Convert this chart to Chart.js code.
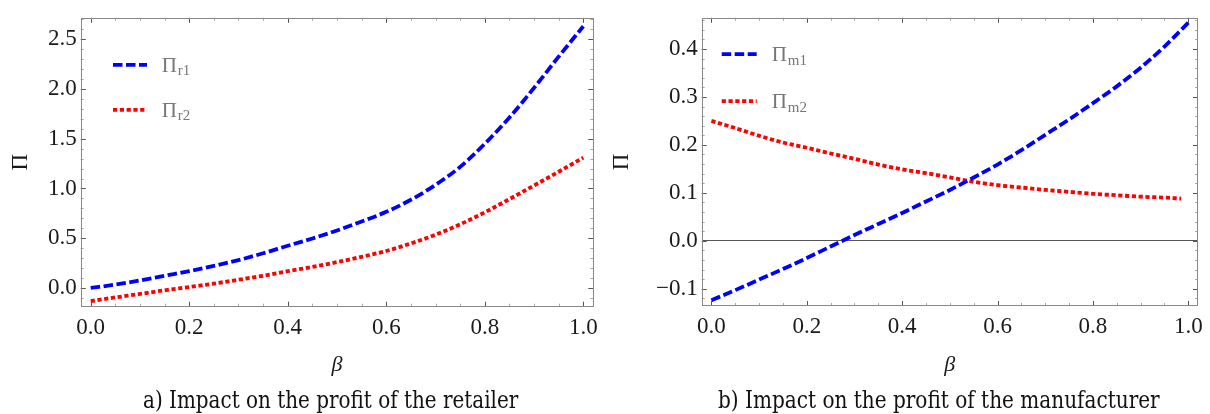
<!DOCTYPE html>
<html>
<head>
<meta charset="utf-8">
<title>Impact on the profit</title>
<script src="https://cdn.jsdelivr.net/npm/chart.js@4.4.1/dist/chart.umd.min.js"></script>
<style>
  html, body { margin: 0; padding: 0; background: #fff; }
  body { width: 1210px; height: 414px; position: relative; overflow: hidden; }
  .panel { position: absolute; top: 0; width: 605px; height: 414px; }
  .caption {
    position: absolute; top: 387px; white-space: nowrap;
    font-family: "DejaVu Serif"; font-stretch: condensed; font-size: 25px; line-height: 25px;
    color: #111; transform-origin: left top;
  }
</style>
</head>
<body>
<div class="panel" style="left:0"><canvas id="retailerChart" width="605" height="414"></canvas></div>
<div class="panel" style="left:605px"><canvas id="manufacturerChart" width="605" height="414"></canvas></div>
<div class="caption" id="captionA" data-left="142.7" data-width="375.3">a) Impact on the profit of the retailer</div>
<div class="caption" id="captionB" data-left="718.3" data-width="441.7">b) Impact on the profit of the manufacturer</div>

<script>
// β steps
const beta = [0, 0.05, 0.1, 0.15, 0.2, 0.25, 0.3, 0.35, 0.4, 0.45, 0.5,
              0.55, 0.6, 0.65, 0.7, 0.75, 0.8, 0.85, 0.9, 0.95, 1.0];
// the red curve of panel b stops just short of 1
const betaM2 = [0, 0.05, 0.1, 0.15, 0.2, 0.25, 0.3, 0.35, 0.4, 0.45, 0.5,
                0.55, 0.6, 0.65, 0.7, 0.75, 0.8, 0.85, 0.9, 0.95, 0.985];

// a) retailer
const profitR1 = [0.000, 0.034, 0.076, 0.123, 0.169, 0.222, 0.280, 0.349, 0.424, 0.497, 0.578,
                  0.668, 0.765, 0.887, 1.036, 1.217, 1.449, 1.713, 2.011, 2.325, 2.630];
const profitR2 = [-0.132, -0.095, -0.060, -0.023, 0.010, 0.044, 0.083, 0.123, 0.169, 0.212, 0.260,
                  0.313, 0.372, 0.448, 0.535, 0.640, 0.760, 0.893, 1.030, 1.168, 1.310];

// b) manufacturer
const profitM1 = [-0.124, -0.103, -0.081, -0.059, -0.036, -0.012, 0.012, 0.035, 0.058, 0.082, 0.106,
                  0.132, 0.159, 0.189, 0.221, 0.253, 0.287, 0.322, 0.361, 0.405, 0.455];
const profitM2 = [0.250, 0.235, 0.219, 0.205, 0.194, 0.182, 0.171, 0.159, 0.149, 0.141, 0.132,
                  0.123, 0.116, 0.111, 0.106, 0.102, 0.098, 0.095, 0.092, 0.090, 0.088];

const seriesLabels = { r1: 'Πr1', r2: 'Πr2', m1: 'Πm1', m2: 'Πm2' };

const BLUE = 'rgb(0, 0, 255)';
const RED = 'rgb(255, 0, 0)';

Chart.defaults.font.family = '"Liberation Serif", "Times New Roman", serif';
Chart.defaults.color = '#1a1a1a';

function toPoints(xs, ys) {
    return xs.map((x, i) => ({ x: x, y: ys[i] }));
}

function formatTick(v) {
    if (v < -1e-9) return '\u2212' + Math.abs(v).toFixed(1);
    return Math.abs(v).toFixed(1);
}

// Mathematica style frame: inner ticks on all four sides
const frameTicks = {
    id: 'frameTicks',
    afterDraw(chart, args, opts) {
        const { ctx, chartArea: a, scales } = chart;
        ctx.save();
        ctx.lineWidth = 1;

        const drawTicks = (scale, step, isX) => {
            const from = Math.ceil(scale.min / step - 1e-6);
            const to = Math.floor(scale.max / step + 1e-6);
            const majors = scale.ticks.map(t => t.value);
            for (let k = from; k <= to; k++) {
                const v = k * step;
                const major = majors.some(m => Math.abs(m - v) < step / 10);
                const len = major ? 5 : 3;
                ctx.strokeStyle = major ? '#555' : '#aaa';
                const p = Math.round(scale.getPixelForValue(v)) + 0.5;
                ctx.beginPath();
                if (isX) {
                    ctx.moveTo(p, a.bottom); ctx.lineTo(p, a.bottom - len);
                    ctx.moveTo(p, a.top); ctx.lineTo(p, a.top + len);
                } else {
                    ctx.moveTo(a.left, p); ctx.lineTo(a.left + len, p);
                    ctx.moveTo(a.right, p); ctx.lineTo(a.right - len, p);
                }
                ctx.stroke();
            }
        };
        drawTicks(scales.x, opts.xMinor, true);
        drawTicks(scales.y, opts.yMinor, false);

        ctx.strokeStyle = '#888';
        ctx.strokeRect(Math.round(a.left) + 0.5, Math.round(a.top) + 0.5,
                       Math.round(a.width) - 1, Math.round(a.height) - 1);
        ctx.restore();
    }
};

// legend with subscripts, drawn inside the plot
const curveLegend = {
    id: 'curveLegend',
    afterDatasetsDraw(chart, args, opts) {
        const { ctx, chartArea: a } = chart;
        chart.data.datasets.forEach((ds, i) => {
            const x = a.left + opts.left;
            const y = a.top + opts.top + i * opts.rowGap;
            ctx.save();
            ctx.strokeStyle = ds.borderColor;
            ctx.lineWidth = ds.borderWidth;
            ctx.lineCap = 'butt';
            ctx.setLineDash(ds.borderDash);
            ctx.beginPath();
            ctx.moveTo(x, y);
            ctx.lineTo(x + opts.lineLength, y);
            ctx.stroke();

            ctx.setLineDash([]);
            ctx.fillStyle = '#777';
            ctx.textBaseline = 'alphabetic';
            ctx.textAlign = 'left';
            const main = ds.label.charAt(0);
            const sub = ds.label.slice(1);
            const tx = x + opts.textOffset;
            ctx.font = '21px "Liberation Serif"';
            ctx.fillText(main, tx, y + 7);
            const w = ctx.measureText(main).width;
            ctx.font = '15px "Liberation Serif"';
            ctx.fillText(sub, tx + w + 1, y + 10.5);
            ctx.restore();
        });
    }
};

function lineDataset(label, points, color, dash) {
    return {
        label: label,
        data: points,
        borderColor: color,
        backgroundColor: color,
        borderWidth: 3.8,
        borderDash: dash,
        borderCapStyle: 'butt',
        pointRadius: 0,
        cubicInterpolationMode: 'monotone',
        fill: false
    };
}

function makePanel(id, cfg) {
    const keepInside = scale => {
        scale.ticks = scale.ticks.filter(t => t.value >= scale.min - 1e-9 && t.value <= scale.max + 1e-9);
    };
    return new Chart(document.getElementById(id), {
        type: 'line',
        data: { datasets: cfg.datasets },
        plugins: [frameTicks, curveLegend],
        options: {
            responsive: false,
            animation: false,
            devicePixelRatio: 1,
            layout: { padding: cfg.padding },
            plugins: {
                legend: { display: false },
                tooltip: { enabled: false },
                frameTicks: { xMinor: 0.05, yMinor: cfg.yMinor },
                curveLegend: cfg.legend
            },
            scales: {
                x: {
                    type: 'linear',
                    min: -0.0203,
                    max: 1.0203,
                    border: { display: false },
                    grid: { display: false, drawTicks: false },
                    ticks: { stepSize: 0.2, padding: 7, includeBounds: false, callback: formatTick,
                             font: { size: 23 }, color: '#1a1a1a', maxRotation: 0 },
                    afterBuildTicks: keepInside,
                    afterFit: scale => { scale.height = 75; },
                    title: { display: true, text: 'β', color: '#1a1a1a',
                             font: { size: 22, style: 'italic' }, padding: { top: 0, bottom: 3 } }
                },
                y: {
                    type: 'linear',
                    min: cfg.yMin,
                    max: cfg.yMax,
                    border: { display: false },
                    grid: cfg.zeroLine ? {
                        drawTicks: false,
                        lineWidth: 1,
                        color: c => (c.tick && Math.abs(c.tick.value) < 1e-9) ? '#555' : 'rgba(0,0,0,0)'
                    } : { display: false, drawTicks: false },
                    ticks: { stepSize: cfg.yStep, padding: 4, includeBounds: false, callback: formatTick,
                             font: { size: 23 }, color: '#1a1a1a' },
                    afterBuildTicks: keepInside,
                    afterFit: scale => { scale.width = cfg.yWidth; },
                    title: { display: true, text: 'Π', color: '#1a1a1a',
                             font: { size: 23 }, padding: { top: cfg.yTitlePad, bottom: 0 } }
                }
            }
        }
    });
}

makePanel('retailerChart', {
    datasets: [
        lineDataset(seriesLabels.r1, toPoints(beta, profitR1), BLUE, [9.5, 3.5]),
        lineDataset(seriesLabels.r2, toPoints(beta, profitR2), RED, [4.2, 2.6])
    ],
    padding: { top: 14, right: 11.7, bottom: 32.3, left: 0 },
    yMin: -0.188, yMax: 2.715, yStep: 0.5, yMinor: 0.1,
    yWidth: 80.7, yTitlePad: 7.2, zeroLine: false,
    legend: { left: 32.3, top: 47, rowGap: 45, lineLength: 34, textOffset: 48.7 }
});

makePanel('manufacturerChart', {
    datasets: [
        lineDataset(seriesLabels.m1, toPoints(beta, profitM1), BLUE, [9.5, 3.5]),
        lineDataset(seriesLabels.m2, toPoints(betaM2, profitM2), RED, [4.2, 2.6])
    ],
    padding: { top: 12.7, right: 12, bottom: 33, left: 0 },
    yMin: -0.136, yMax: 0.465, yStep: 0.1, yMinor: 0.02,
    yWidth: 96.7, yTitlePad: 2.7, zeroLine: true,
    legend: { left: 20, top: 36.3, rowGap: 47, lineLength: 35, textOffset: 50 }
});

// squeeze captions to the width they take in the figure
document.querySelectorAll('.caption').forEach(el => {
    const target = parseFloat(el.dataset.width);
    const w = el.getBoundingClientRect().width;
    el.style.left = el.dataset.left + 'px';
    el.style.transform = 'scaleX(' + (target / w) + ')';
});
</script>
</body>
</html>
